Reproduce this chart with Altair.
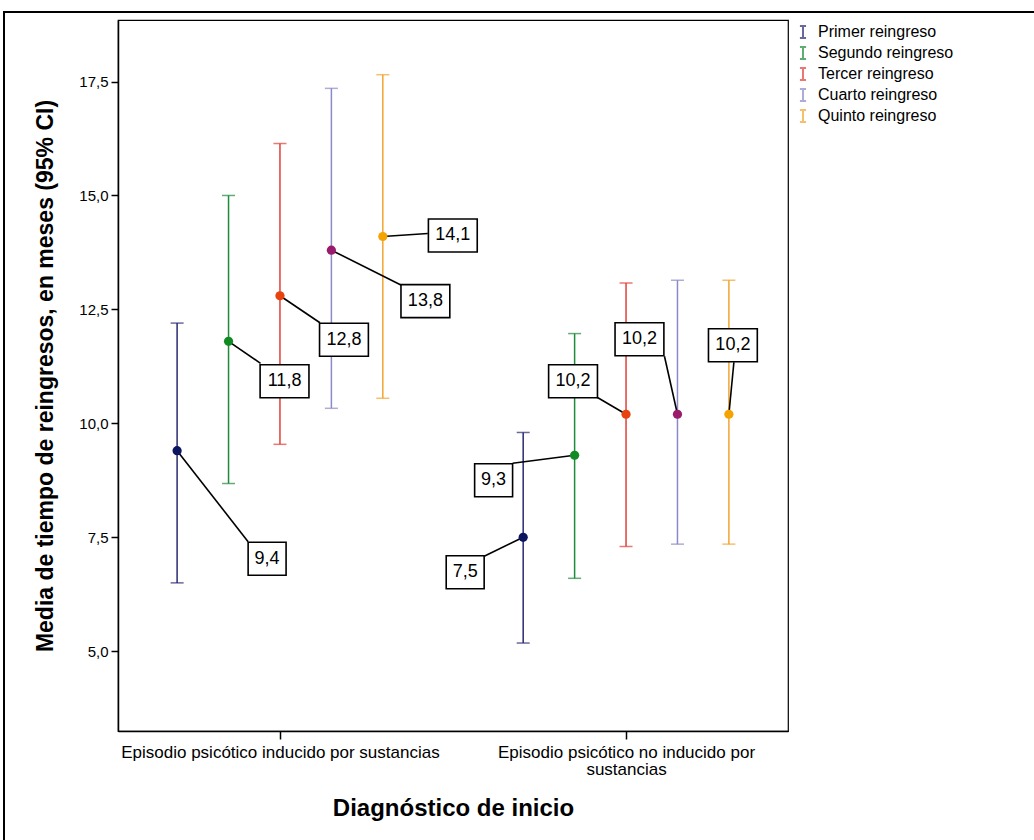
import textwrap

import altair as alt
import pandas as pd

# ---- data -----------------------------------------------------------------
GROUPS = [
    "Episodio psicótico inducido por sustancias",
    "Episodio psicótico no inducido por sustancias",
]
SERIES = [
    "Primer reingreso",
    "Segundo reingreso",
    "Tercer reingreso",
    "Cuarto reingreso",
    "Quinto reingreso",
]

# mean months between readmissions and 95% CI, per diagnosis group
MEAN_INDUCED = [9.4, 11.8, 12.8, 13.8, 14.1]
LOW_INDUCED = [6.50, 8.68, 9.54, 10.33, 10.55]
HIGH_INDUCED = [12.20, 15.00, 16.14, 17.35, 17.65]

MEAN_NOT_INDUCED = [7.5, 9.3, 10.2, 10.2, 10.2]
LOW_NOT_INDUCED = [5.18, 6.60, 7.30, 7.35, 7.35]
HIGH_NOT_INDUCED = [9.80, 11.97, 13.08, 13.14, 13.14]

Y_TICKS = [5.0, 7.5, 10.0, 12.5, 15.0, 17.5]

X_TITLE = "Diagnóstico de inicio"
Y_TITLE = "Media de tiempo de reingresos, en meses (95% CI)"

# ---- layout & style ---------------------------------------------------------
W, H = 670, 711
PAD = {"left": 118, "top": 20, "right": 246, "bottom": 109}
X_DOMAIN = [-0.468, 1.468]
Y_DOMAIN = [3.25, 18.85]
SERIES_STEP = 0.1486  # spacing of the clustered bars inside a group

BAR_COLORS = ["#2a2a72", "#1f8a3c", "#e0403a", "#8a8ac8", "#f2a431"]
POINT_COLORS = ["#0b1560", "#108a22", "#e8430e", "#9a1b6c", "#f5a300"]

FONT = "Liberation Sans, Arial, Helvetica, sans-serif"

# value-label boxes: centre offset and leader end, in pixels from each mean point
BOX_OFFSETS = [
    [(90, 108), (56, 40), (64, 44), (94, 51), (70, -1)],
    [(-58, 35), (-81, 25), (-53, -33), (-38, -75), (4, -69)],
]
LEADER_ENDS = [
    [(71, 91), (32, 22), (40, 27), (70, 35), (45, -3)],
    [(-39, 19), (-62, 8), (-29, -17), (-13, -58), (5, -52)],
]

PX_X = W / (X_DOMAIN[1] - X_DOMAIN[0])
PX_Y = H / (Y_DOMAIN[1] - Y_DOMAIN[0])

groups_data = [
    (MEAN_INDUCED, LOW_INDUCED, HIGH_INDUCED),
    (MEAN_NOT_INDUCED, LOW_NOT_INDUCED, HIGH_NOT_INDUCED),
]

rows = []
for g, (means, lows, highs) in enumerate(groups_data):
    for s, name in enumerate(SERIES):
        x = g + (s - 2) * SERIES_STEP
        m = means[s]
        bx, by = BOX_OFFSETS[g][s]
        ex, ey = LEADER_ENDS[g][s]
        label = f"{m:.1f}".replace(".", ",")
        rows.append(
            dict(
                serie=name,
                x=x,
                media=m,
                inf=lows[s],
                sup=highs[s],
                box_x=x + bx / PX_X,
                box_y=m - by / PX_Y,
                end_x=x + ex / PX_X,
                end_y=m - ey / PX_Y,
                etiqueta=label,
                ancho="w" if len(label) > 3 else "n",
            )
        )
df = pd.DataFrame(rows)

# category labels, long ones broken over two lines
wrapped = [textwrap.wrap(g, 42) for g in GROUPS]


def js_list(lines):
    return "[" + ",".join("'" + ln + "'" for ln in lines) + "]"


x_label_expr = f"datum.value == 0 ? {js_list(wrapped[0])} : {js_list(wrapped[1])}"

x_scale = alt.Scale(domain=X_DOMAIN, nice=False, zero=False)
y_scale = alt.Scale(domain=Y_DOMAIN, nice=False, zero=False)

color_scale = alt.Scale(domain=SERIES, range=BAR_COLORS)
fill_scale = alt.Scale(domain=SERIES, range=POINT_COLORS)

I_PATH = "M-0.5,-1H0.5M0,-1V1M-0.5,1H0.5"
BOX_N = "M-1.15,-1H1.15V1H-1.15Z"
BOX_W = "M-1.48,-1H1.48V1H-1.48Z"

base = alt.Chart(df)


def xq(field):
    return alt.X(field, title=X_TITLE)


def yq(field):
    return alt.Y(field, title=Y_TITLE)


x_main = alt.X(
    "x:Q",
    scale=x_scale,
    title=X_TITLE,
    axis=alt.Axis(
        values=[0, 1],
        labelExpr=x_label_expr,
        labelLimit=0,
        grid=False,
        tickSize=8,
        tickWidth=1.5,
        domainWidth=1.5,
        labelFontSize=17,
        labelPadding=5,
        labelLineHeight=17,
        labelAngle=0,
        titleFontSize=24,
        titleFontWeight="bold",
        titleX=W / 2,
        titleY=77,
        titleBaseline="middle",
    ),
)
y_main = alt.Y(
    "inf:Q",
    scale=y_scale,
    title=Y_TITLE,
    axis=alt.Axis(
        values=Y_TICKS,
        labelExpr="replace(format(datum.value, '.1f'), '.', ',')",
        grid=False,
        tickSize=7,
        tickWidth=1.5,
        domainWidth=1.5,
        labelFontSize=15,
        labelPadding=3,
        titleFontSize=23,
        titleFontWeight="bold",
        titleLimit=0,
        titleX=-73,
        titleY=H / 2,
        titleBaseline="middle",
    ),
)

frame = (
    alt.Chart(pd.DataFrame({"k": [0]}))
    .mark_rect(filled=False, stroke="black", strokeWidth=2)
    .encode(
        x=alt.value(4 - PAD["left"]),
        x2=alt.value(W + PAD["right"] + 20),
        y=alt.value(12 - PAD["top"]),
        y2=alt.value(H + PAD["bottom"] + 20),
    )
)

bars = base.mark_rule(strokeWidth=1.5).encode(
    x=x_main,
    y=y_main,
    y2="sup:Q",
    color=alt.Color(
        "serie:N",
        scale=color_scale,
        legend=alt.Legend(
            title=None,
            orient="none",
            legendX=W + 7,
            legendY=4,
            symbolType=I_PATH,
            symbolSize=150,
            symbolStrokeWidth=2,
            labelFontSize=16,
            labelOffset=7,
            labelLimit=0,
            rowPadding=-1,
            padding=0,
        ),
    ),
)

caps_low = base.mark_tick(orient="horizontal", size=13, thickness=1.5).encode(
    x=xq("x:Q"), y=yq("inf:Q"), color=alt.Color("serie:N", scale=color_scale)
)
caps_high = base.mark_tick(orient="horizontal", size=13, thickness=1.5).encode(
    x=xq("x:Q"), y=yq("sup:Q"), color=alt.Color("serie:N", scale=color_scale)
)

leaders = base.mark_rule(color="black", strokeWidth=1.6).encode(
    x=xq("x:Q"),
    y=yq("media:Q"),
    x2="end_x:Q",
    y2="end_y:Q",
)

points = base.mark_point(filled=True, size=85, opacity=1).encode(
    x=xq("x:Q"),
    y=yq("media:Q"),
    fill=alt.Fill("serie:N", scale=fill_scale, legend=None),
)

boxes = base.mark_point(
    filled=True, fill="white", stroke="black", strokeWidth=1.6, size=1089, opacity=1
).encode(
    x=xq("box_x:Q"),
    y=yq("box_y:Q"),
    shape=alt.Shape("ancho:N", scale=alt.Scale(domain=["n", "w"], range=[BOX_N, BOX_W]), legend=None),
)

labels = base.mark_text(fontSize=18, color="black", align="center", baseline="middle").encode(
    x=xq("box_x:Q"),
    y=yq("box_y:Q"),
    text="etiqueta:N",
)

chart = (
    alt.layer(frame, bars, caps_low, caps_high, leaders, points, boxes, labels)
    .properties(width=W, height=H, padding=PAD, autosize=alt.AutoSizeParams(type="none"))
    .configure(font=FONT, background="white")
    .configure_view(stroke="black", strokeWidth=1.2)
    .configure_axis(domainColor="black", tickColor="black", labelColor="black", titleColor="black",
                    labelFont=FONT, titleFont=FONT)
    .configure_legend(labelFont=FONT, labelColor="black")
    .configure_text(font=FONT)
)

chart.save("out.html", embed_options={"renderer": "svg", "actions": False})
